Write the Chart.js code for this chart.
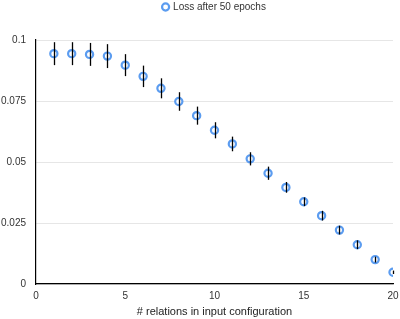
<!DOCTYPE html>
<html>
<head>
<meta charset="utf-8">
<script src="https://cdn.jsdelivr.net/npm/chart.js@4"></script>
<style>
  html, body { margin: 0; padding: 0; background: #fff; }
  .chart-box { width: 400px; height: 319px; position: relative; }
</style>
</head>
<body>
<div class="chart-box">
  <canvas id="lossChart"></canvas>
</div>
<script>
// number of relations in the input configuration
const relations = [1, 2, 3, 4, 5, 6, 7, 8, 9, 10, 11, 12, 13, 14, 15, 16, 17, 18, 19, 20];
// mean loss after 50 epochs
const loss = [0.0944, 0.0944, 0.0941, 0.0934, 0.0897, 0.0851, 0.0802, 0.0748, 0.0690, 0.0630,
              0.0574, 0.0513, 0.0454, 0.0396, 0.0337, 0.0280, 0.0221, 0.0161, 0.0100, 0.0048];
// +/- error
const lossErr = [0.0047, 0.0047, 0.0047, 0.0049, 0.0045, 0.0044, 0.0041, 0.0038, 0.0037, 0.0033,
                 0.0030, 0.0027, 0.0027, 0.0022, 0.0018, 0.0020, 0.0018, 0.0018, 0.0012, 0.0007];
const yTicks = [0, 0.025, 0.05, 0.075, 0.1];

const blue = "#5b9cf0";
const font = { family: "Liberation Sans", size: 10 };

// vertical error bars drawn on top of the points
const errorBars = {
  id: "errorBars",
  afterDatasetsDraw(chart) {
    const { ctx, scales: { x, y } } = chart;
    ctx.save();
    ctx.strokeStyle = "#000";
    ctx.lineWidth = 1.3;
    relations.forEach((r, i) => {
      const px = Math.round(x.getPixelForValue(r)) + 0.5;
      ctx.beginPath();
      ctx.moveTo(px, y.getPixelForValue(loss[i] + lossErr[i]));
      ctx.lineTo(px, y.getPixelForValue(loss[i] - lossErr[i]));
      ctx.stroke();
    });
    ctx.restore();
  }
};

// extra room under the legend
const legendGap = {
  id: "legendGap",
  beforeInit(chart) {
    const fit = chart.legend.fit;
    chart.legend.fit = function () {
      fit.bind(chart.legend)();
      this.height += 18;
    };
  }
};

new Chart(document.getElementById("lossChart"), {
  type: "scatter",
  data: {
    datasets: [{
      label: "Loss after 50 epochs",
      data: relations.map((r, i) => ({ x: r, y: loss[i] })),
      pointRadius: 3.6,
      pointBorderWidth: 2.2,
      pointBorderColor: blue,
      pointBackgroundColor: "#fff",
      borderColor: blue,
      backgroundColor: "#fff"
    }]
  },
  options: {
    responsive: true,
    maintainAspectRatio: false,
    animation: false,
    plugins: {
      legend: {
        position: "top",
        fullSize: false,
        labels: {
          usePointStyle: true,
          boxWidth: 5,
          boxHeight: 5,
          color: "#333",
          font: font,
          padding: 2
        }
      },
      tooltip: { enabled: false }
    },
    scales: {
      x: {
        type: "linear",
        min: 0,
        max: 20,
        ticks: { stepSize: 5, color: "#333", font: font, padding: 6 },
        grid: { display: false, drawTicks: false },
        border: { color: "#000", width: 1.2 },
        title: { display: true, text: "# relations in input configuration", color: "#222",
                 font: { family: "Liberation Sans", size: 11 }, padding: { top: 5, bottom: 0 } },
        afterFit(scale) {
          scale.height = 35;
          scale.paddingLeft = 0;
          scale.paddingRight = 7;
        }
      },
      y: {
        min: 0,
        max: 0.1,
        afterBuildTicks(scale) { scale.ticks = yTicks.map(v => ({ value: v })); },
        ticks: { color: "#333", font: font, padding: 10,
                 callback: v => String(+v.toFixed(3)) },
        grid: { color: "#e6e6e6", drawTicks: false },
        border: { color: "#000", width: 1.2 },
        afterFit(scale) { scale.width = 36; }
      }
    }
  },
  plugins: [errorBars, legendGap]
});
</script>
</body>
</html>
